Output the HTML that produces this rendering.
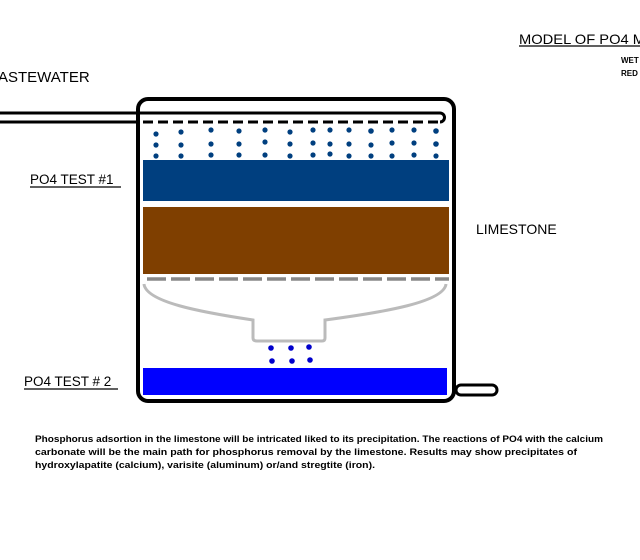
<!DOCTYPE html>
<html><head><meta charset="utf-8"><style>
html,body{margin:0;padding:0;background:#fff;width:640px;height:560px;overflow:hidden}
svg{display:block;font-family:"Liberation Sans",Arial,sans-serif}
</style></head><body>
<svg width="640" height="560" viewBox="0 0 640 560" xmlns="http://www.w3.org/2000/svg">
<rect width="640" height="560" fill="#fff"/>
<text x="519" y="44" font-size="14" fill="#000" textLength="126" lengthAdjust="spacingAndGlyphs">MODEL OF PO4  M</text>
<line x1="519" y1="46" x2="640" y2="46" stroke="#000" stroke-width="1.2"/>
<text x="621" y="63" font-size="8" font-weight="bold">WET</text>
<text x="621" y="76" font-size="8" font-weight="bold">RED</text>
<text x="-2" y="82" font-size="15">ASTEWATER</text>
<text x="30" y="184" font-size="13.5">PO4 TEST #1</text>
<line x1="30" y1="187" x2="121" y2="187" stroke="#000" stroke-width="1.2"/>
<text x="476" y="234" font-size="14">LIMESTONE</text>
<text x="24" y="386" font-size="13.5">PO4 TEST # 2</text>
<line x1="24" y1="389" x2="118" y2="389" stroke="#000" stroke-width="1.2"/>
<rect x="143" y="160" width="306" height="41" fill="#003f7f"/>
<rect x="143" y="207" width="306" height="67" fill="#7f3f00"/>
<rect x="143" y="368" width="304" height="27" fill="#0000ff"/>
<rect x="138" y="99" width="316" height="302" rx="10" fill="none" stroke="#000" stroke-width="4"/>
<rect x="456" y="385" width="41" height="10" rx="5" fill="#fff" stroke="#000" stroke-width="3"/>
<path d="M0 113 H440 A4.5 4.5 0 0 1 440 122" fill="none" stroke="#000" stroke-width="3"/>
<line x1="0" y1="122" x2="140" y2="122" stroke="#000" stroke-width="3"/>
<line x1="143" y1="122" x2="440" y2="122" stroke="#000" stroke-width="3" stroke-dasharray="10,5"/>
<g fill="#003f7f">
<circle cx="156" cy="134" r="2.6"/><circle cx="156" cy="145" r="2.6"/><circle cx="156" cy="156" r="2.6"/>
<circle cx="181" cy="132" r="2.6"/><circle cx="181" cy="145" r="2.6"/><circle cx="181" cy="156" r="2.6"/>
<circle cx="211" cy="130" r="2.6"/><circle cx="211" cy="144" r="2.6"/><circle cx="211" cy="155" r="2.6"/>
<circle cx="239" cy="131" r="2.6"/><circle cx="239" cy="144" r="2.6"/><circle cx="239" cy="155" r="2.6"/>
<circle cx="265" cy="130" r="2.6"/><circle cx="265" cy="142" r="2.6"/><circle cx="265" cy="155" r="2.6"/>
<circle cx="290" cy="132" r="2.6"/><circle cx="290" cy="144" r="2.6"/><circle cx="290" cy="156" r="2.6"/>
<circle cx="313" cy="130" r="2.6"/><circle cx="313" cy="143" r="2.6"/><circle cx="313" cy="155" r="2.6"/>
<circle cx="330" cy="130" r="2.6"/><circle cx="330" cy="144" r="2.6"/><circle cx="330" cy="154" r="2.6"/>
<circle cx="349" cy="130" r="2.6"/><circle cx="349" cy="144" r="2.6"/><circle cx="349" cy="156" r="2.6"/>
<circle cx="371" cy="131" r="2.8"/><circle cx="371" cy="145" r="2.6"/><circle cx="371" cy="156" r="2.6"/>
<circle cx="392" cy="130" r="2.6"/><circle cx="392" cy="143" r="2.6"/><circle cx="392" cy="156" r="2.6"/>
<circle cx="414" cy="130" r="2.6"/><circle cx="414" cy="143" r="2.6"/><circle cx="414" cy="155" r="2.6"/>
<circle cx="436" cy="131" r="2.8"/><circle cx="436" cy="144" r="2.8"/><circle cx="436" cy="156" r="2.6"/>
</g>
<line x1="147" y1="279" x2="449" y2="279" stroke="#888" stroke-width="3.5" stroke-dasharray="19,5"/>
<path d="M144 284 C146 302 200 312 253 320 V338 Q253 341 257 341 H322 Q325 341 325 338 V320 C385 312 444 302 446 284" fill="none" stroke="#bbb" stroke-width="3"/>
<g fill="#0000cc">
<circle cx="271" cy="348" r="2.8"/><circle cx="291" cy="348" r="2.8"/><circle cx="309" cy="347" r="2.8"/>
<circle cx="272" cy="361" r="2.8"/><circle cx="292" cy="361" r="2.8"/><circle cx="310" cy="360" r="2.8"/>
</g>
<g font-size="9.5" font-weight="bold">
<text x="35" y="442" textLength="568" lengthAdjust="spacingAndGlyphs">Phosphorus adsortion in the limestone will be intricated liked to its precipitation. The reactions of PO4 with the calcium</text>
<text x="35" y="455" textLength="542" lengthAdjust="spacingAndGlyphs">carbonate will be the main path for phosphorus removal by the limestone. Results may show precipitates of</text>
<text x="35" y="468" textLength="340" lengthAdjust="spacingAndGlyphs">hydroxylapatite (calcium), varisite (aluminum) or/and stregtite (iron).</text>
</g>
</svg>
</body></html>
